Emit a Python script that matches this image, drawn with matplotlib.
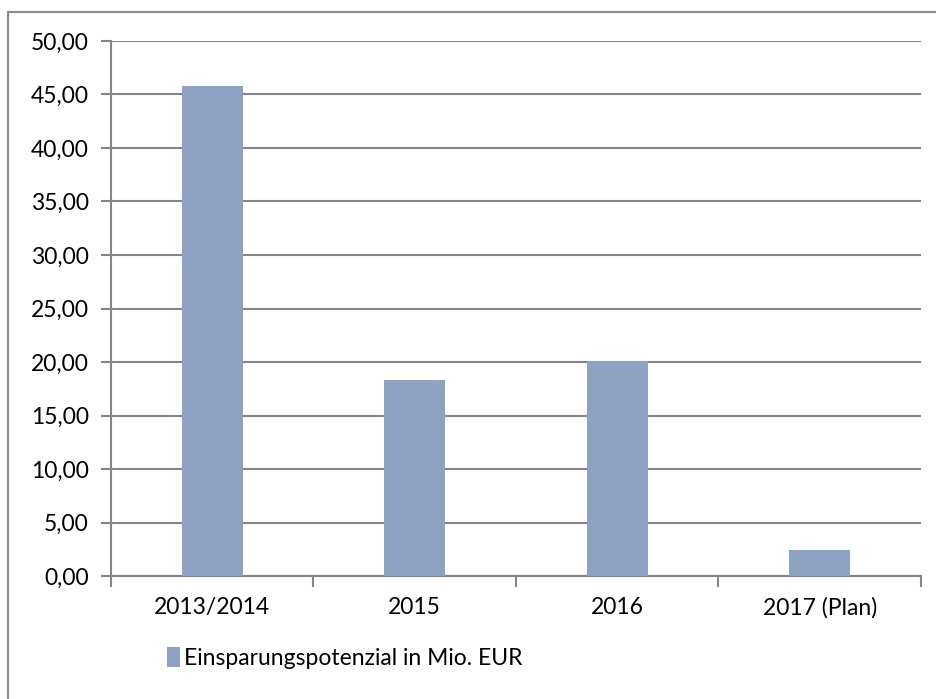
import numpy as np
import matplotlib.pyplot as plt
from matplotlib.patches import Rectangle

categories = ["2013/2014", "2015", "2016", "2017 (Plan)"]
values = [45.8, 18.3, 20.05, 2.45]
yticks = [0, 5, 10, 15, 20, 25, 30, 35, 40, 45, 50]
series_name = "Einsparungspotenzial in Mio. EUR"

plt.rcParams['font.family'] = ['Lato', 'DejaVu Sans']

W, H = 937, 699
fig = plt.figure(figsize=(W / 100, H / 100), dpi=100)

# outer chart frame (runs off the right/bottom edges)
fig.patches.append(Rectangle((8 / W, -0.1), 1.2, 1 - 12 / H + 0.1,
                             transform=fig.transFigure, fill=False,
                             edgecolor='#8c8c8c', linewidth=1.6))

ax = fig.add_axes([111 / W, 1 - 576 / H, (921 - 111) / W, (576 - 41) / H])
x = np.arange(len(categories))
ax.bar(x, values, width=0.3, color='#8ea2c4', zorder=3, label=series_name)

ax.set_xlim(-0.5, len(categories) - 0.5)
ax.set_ylim(0, 50)
ax.set_yticks(yticks)
ax.set_yticklabels([f"{v:.2f}".replace('.', ',') for v in yticks], fontsize=16.5)
ax.set_xticks(x)
ax.set_xticklabels(categories, fontsize=16.5)
ax.tick_params(axis='x', length=0, pad=15)
ax.tick_params(axis='y', length=7, width=1.5, color='#868686', pad=9)

# category boundary ticks
ax.set_xticks(np.arange(-0.5, len(categories)), minor=True)
ax.tick_params(axis='x', which='minor', length=8, width=1.5, color='#868686')

ax.grid(axis='y', color='#868686', linewidth=1.5, zorder=0)
for s in ['top', 'right']:
    ax.spines[s].set_visible(False)
ax.spines['left'].set_color('#868686')
ax.spines['left'].set_linewidth(1.5)
ax.spines['bottom'].set_color('#868686')
ax.spines['bottom'].set_linewidth(1.5)

fig.legend(loc='center', bbox_to_anchor=(345 / W, 1 - 658 / H), frameon=False,
           fontsize=16.5, handlelength=0.55, handleheight=1.0, handletextpad=0.2)

fig.savefig("out.png", dpi=100)
